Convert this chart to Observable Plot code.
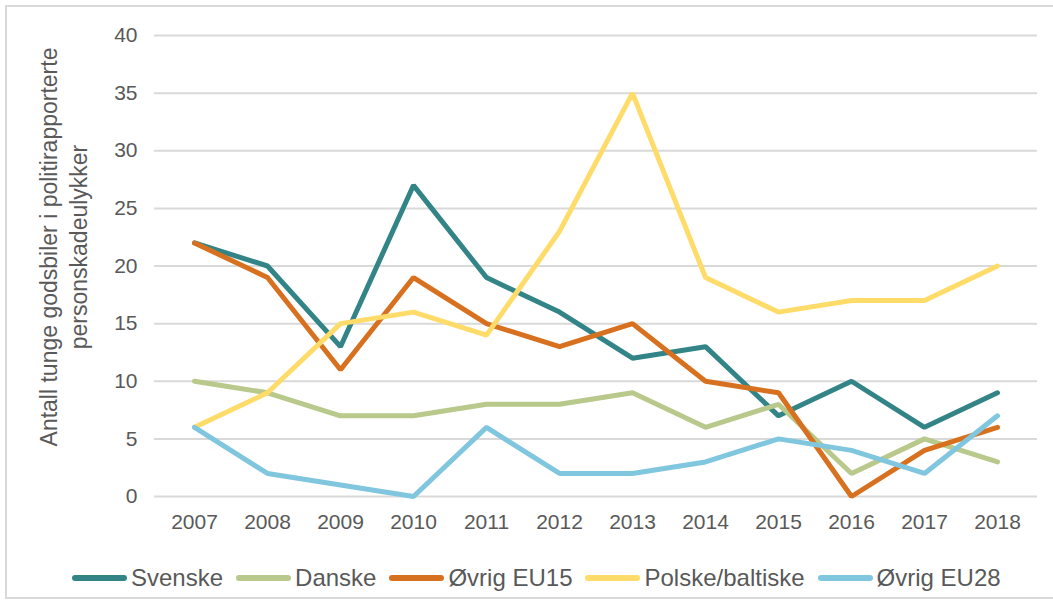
<!DOCTYPE html>
<html>
<head>
<meta charset="utf-8">
<script src="https://cdn.jsdelivr.net/npm/d3@7"></script>
<script src="https://cdn.jsdelivr.net/npm/@observablehq/plot@0.6"></script>
<style>
  html, body { margin: 0; padding: 0; background: #fff; overflow: hidden; width: 1053px; height: 608px; }
  #frame { position: absolute; left: 5px; top: 5px; width: 1070px; height: 594px; border: 2px solid #d9d9d9; box-sizing: border-box; }
  #chart { position: absolute; left: 0; top: 0; }
  #legend { position: absolute; left: 0; top: 563px; width: 1053px; display: flex; justify-content: flex-start; padding-left: 72px; box-sizing: border-box;
            font-family: "Liberation Sans", Arial, sans-serif; font-size: 24px; color: #595959; line-height: 30px; }
  .item { display: flex; align-items: center; margin-right: 13px; }
  .sw { width: 55px; height: 6px; border-radius: 3px; margin-right: 4px; }
</style>
</head>
<body>
<div id="frame"></div>
<div id="chart"></div>
<div id="legend"></div>
<script>
const years = ["2007","2008","2009","2010","2011","2012","2013","2014","2015","2016","2017","2018"];
const seriesNames = ["Svenske", "Danske", "Øvrig EU15", "Polske/baltiske", "Øvrig EU28"];
const svenske   = [22, 20, 13, 27, 19, 16, 12, 13, 7, 10, 6, 9];
const danske    = [10, 9, 7, 7, 8, 8, 9, 6, 8, 2, 5, 3];
const ovrigEU15 = [22, 19, 11, 19, 15, 13, 15, 10, 9, 0, 4, 6];
const polske    = [6, 9, 15, 16, 14, 23, 35, 19, 16, 17, 17, 20];
const ovrigEU28 = [6, 2, 1, 0, 6, 2, 2, 3, 5, 4, 2, 7];
const yTicks = [0, 5, 10, 15, 20, 25, 30, 35, 40];
const colors = ["#338486", "#b8c98b", "#d8711f", "#ffdc6a", "#80c6df"];
const yLabel = "Antall tunge godsbiler i politirapporterte\npersonskadeulykker";

const seriesValues = [svenske, danske, ovrigEU15, polske, ovrigEU28];
const data = [];
seriesNames.forEach((s, i) => {
  years.forEach((y, j) => data.push({series: s, year: y, value: seriesValues[i][j]}));
});

const chart = Plot.plot({
  width: 1053,
  height: 545,
  marginLeft: 154,
  marginRight: 16,
  marginTop: 35,
  marginBottom: 49,
  style: { fontFamily: "Liberation Sans, Arial, sans-serif", fontSize: "21px", color: "#595959", background: "transparent" },
  x: { type: "point", domain: years, padding: 0.5, label: null },
  y: { domain: [0, 40], label: null },
  color: { domain: seriesNames, range: colors },
  marks: [
    Plot.ruleY(yTicks, { stroke: "#d9d9d9", strokeWidth: 2 }),
    Plot.axisY({ ticks: yTicks, tickSize: 0, tickPadding: 17, label: null, fontSize: 21 }),
    Plot.axisX({ tickSize: 0, tickPadding: 18, label: null, fontSize: 21 }),
    Plot.line(data, { x: "year", y: "value", z: "series", stroke: "series", strokeWidth: 5, strokeLinecap: "round", strokeLinejoin: "miter" }),
    Plot.text([yLabel], { frameAnchor: "left", dx: -92, dy: -19, rotate: -90, fontSize: 23, fill: "#595959", lineHeight: 1.3, textAnchor: "middle" })
  ]
});
document.getElementById("chart").appendChild(chart);

const legend = document.getElementById("legend");
seriesNames.forEach((s, i) => {
  const it = document.createElement("div");
  it.className = "item";
  const sw = document.createElement("div");
  sw.className = "sw";
  sw.style.background = colors[i];
  const t = document.createElement("span");
  t.textContent = s;
  it.appendChild(sw);
  it.appendChild(t);
  legend.appendChild(it);
});
</script>
</body>
</html>
